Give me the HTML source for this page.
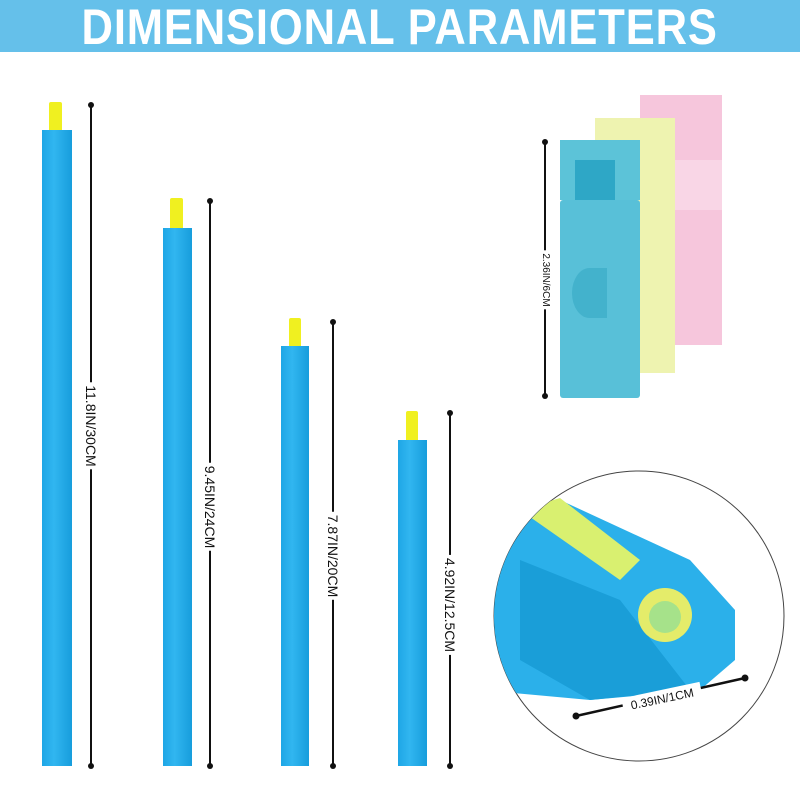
<!DOCTYPE html>
<html><head><style>
body{margin:0;width:800px;height:800px;background:#fff;position:relative;overflow:hidden;font-family:"Liberation Sans",sans-serif}
.b{position:absolute}
.banner{left:0;top:0;width:800px;height:52px;background:#65c0ea;color:#fff;font-size:50px;font-weight:bold;text-align:center;line-height:54px;letter-spacing:1px;}
.stick{position:absolute;background:linear-gradient(90deg,#1ea6e6,#31b6f0 40%,#179ddc);}
.tip{position:absolute;background:#f0f020;border-radius:2px 2px 0 0}
.ln{position:absolute;width:2px;background:#111}
.dot{position:absolute;width:6px;height:6px;border-radius:50%;background:#111}
.lbl{position:absolute;font-size:14px;color:#111;white-space:nowrap;background:#fff;transform:translate(-50%,-50%) rotate(90deg);padding:0 3px;line-height:14px}
</style></head><body>
<div class="b banner"><span style="display:inline-block;transform:scaleX(0.87)">DIMENSIONAL PARAMETERS</span></div>

<div class="tip" style="left:49px;top:102px;width:13px;height:28px"></div>
<div class="stick" style="left:42px;top:130px;width:30px;height:636px"></div>
<div class="tip" style="left:170px;top:198px;width:13px;height:30px"></div>
<div class="stick" style="left:163px;top:228px;width:29px;height:538px"></div>
<div class="tip" style="left:289px;top:318px;width:12px;height:28px"></div>
<div class="stick" style="left:281px;top:346px;width:28px;height:420px"></div>
<div class="tip" style="left:406px;top:411px;width:12px;height:29px"></div>
<div class="stick" style="left:398px;top:440px;width:29px;height:326px"></div>

<div class="ln" style="left:90px;top:105px;height:660px"></div><div class="dot" style="left:88px;top:102px"></div><div class="dot" style="left:88px;top:763px"></div>
<div class="lbl" style="left:91px;top:426px">11.8IN/30CM</div>
<div class="ln" style="left:209px;top:201px;height:564px"></div><div class="dot" style="left:207px;top:198px"></div><div class="dot" style="left:207px;top:763px"></div>
<div class="lbl" style="left:210px;top:507px">9.45IN/24CM</div>
<div class="ln" style="left:332px;top:322px;height:443px"></div><div class="dot" style="left:330px;top:319px"></div><div class="dot" style="left:330px;top:763px"></div>
<div class="lbl" style="left:333px;top:556px">7.87IN/20CM</div>
<div class="ln" style="left:449px;top:413px;height:352px"></div><div class="dot" style="left:447px;top:410px"></div><div class="dot" style="left:447px;top:763px"></div>
<div class="lbl" style="left:450px;top:605px">4.92IN/12.5CM</div>

<!-- clips -->
<div class="b" style="left:640px;top:95px;width:82px;height:250px;background:#f6c6dc"></div>
<div class="b" style="left:675px;top:160px;width:47px;height:50px;background:#f9d6e6"></div>
<div class="b" style="left:595px;top:118px;width:80px;height:255px;background:#eef3b0"></div>
<div class="b" style="left:560px;top:140px;width:80px;height:60px;background:#5cc3d8"></div>
<div class="b" style="left:575px;top:160px;width:40px;height:40px;background:#2ea7c6"></div>
<div class="b" style="left:560px;top:200px;width:80px;height:198px;background:#58c0d8;border-radius:3px"></div>
<div class="b" style="left:572px;top:268px;width:35px;height:50px;background:#43b2cc;border-radius:50% 0 0 50%"></div>
<div class="ln" style="left:544px;top:142px;height:253px"></div><div class="dot" style="left:542px;top:139px"></div><div class="dot" style="left:542px;top:393px"></div>
<div class="lbl" style="left:545px;top:280px;font-size:10px">2.36IN/6CM</div>

<!-- circle -->
<svg class="b" style="left:0;top:0" width="800" height="800">
<defs><clipPath id="c"><circle cx="639" cy="616" r="145"/></clipPath></defs>
<circle cx="639" cy="616" r="145" fill="#fff" stroke="#444" stroke-width="1"/>
<g clip-path="url(#c)">
<polygon points="480,540 560,500 690,560 735,610 735,660 700,690 590,700 480,690" fill="#2bb0ea"/>
<polygon points="520,510 560,498 640,560 620,580" fill="#d9f070"/>
<polygon points="520,560 620,600 690,690 590,700 520,660" fill="#1a9ed8"/>
<circle cx="665" cy="615" r="27" fill="#e4ec6a"/>
<circle cx="665" cy="617" r="16" fill="#a6e28a"/>
</g>
<line x1="576" y1="716" x2="745" y2="678" stroke="#111" stroke-width="2.5"/>
<circle cx="576" cy="716" r="3.5" fill="#111"/><circle cx="745" cy="678" r="3.5" fill="#111"/>
<rect x="622" y="690" width="80" height="16" fill="#fff" transform="rotate(-12 662 698)"/>
<text x="662" y="703" font-size="12" text-anchor="middle" fill="#111" font-family="Liberation Sans" transform="rotate(-12 662 698)">0.39IN/1CM</text>
</svg>
</body></html>
